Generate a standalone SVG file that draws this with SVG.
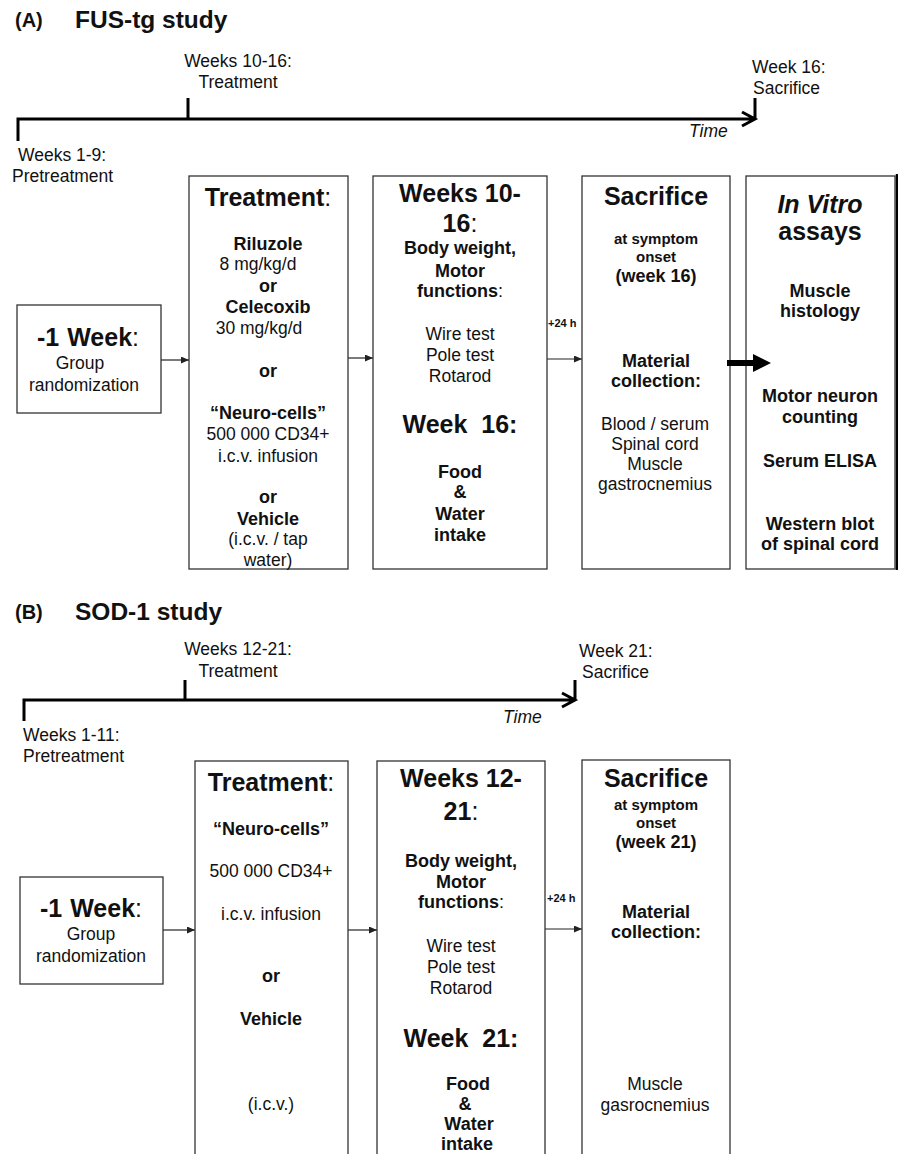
<svg xmlns="http://www.w3.org/2000/svg" width="898" height="1154" viewBox="0 0 898 1154">
<defs>
<style>
text{font-family:"Liberation Sans",Arial,sans-serif;fill:#111}
.r{font-size:17.5px;text-anchor:middle}
.l{font-size:17.5px}
.b{font-size:18px;font-weight:bold;text-anchor:middle}
.h{font-size:25px;font-weight:bold;text-anchor:middle}
.s{font-size:15px;font-weight:bold;text-anchor:middle}
.t{font-size:11px;font-weight:bold}
.n{font-weight:normal}
.box{fill:#fff;stroke:#333;stroke-width:1.3}
.tl{stroke:#000;stroke-width:3;fill:none}
.c{stroke:#222;stroke-width:1.2;fill:none;marker-end:url(#ah)}
</style>
<marker id="ah" markerUnits="userSpaceOnUse" markerWidth="9" markerHeight="8" refX="8" refY="3.5" orient="auto">
<path d="M0,0 L8,3.5 L0,7 z" fill="#222"/>
</marker>
</defs>
<rect width="898" height="1154" fill="#fff"/>

<!-- Panel A -->
<g id="titleA">
<text x="15" y="27" style="font-size:20px;font-weight:bold">(A)</text>
<text x="75" y="28" style="font-size:24.5px;font-weight:bold">FUS-tg study</text>
</g>
<g id="timelineA">
<path class="tl" d="M18,141 L18,119 L755,119 M188,98 L188,119 M755,98 L755,119 M742,112 L755,119 L742,126"/>
<text class="r" x="238" y="67">Weeks 10-16:</text>
<text class="r" x="238" y="88">Treatment</text>
<text class="l" x="752" y="73">Week 16:</text>
<text class="l" x="753" y="94">Sacrifice</text>
<text class="l" x="689" y="137" style="font-style:italic">Time</text>
<text class="l" x="18" y="161">Weeks 1-9:</text>
<text class="l" x="12" y="182">Pretreatment</text>
</g>

<g id="connectorsA">
<line class="c" x1="161" y1="360" x2="189" y2="360"/>
<line class="c" x1="348" y1="358" x2="373" y2="358"/>
<line class="c" x1="547" y1="359" x2="582" y2="359"/>
<text class="t" x="548" y="327">+24 h</text>
</g>

<g id="weekA">
<rect class="box" x="17" y="305" width="144" height="108"/>
<text class="h" x="88" y="346">-1<tspan dx="8">Week</tspan><tspan class="n">:</tspan></text>
<text class="r" x="80" y="369">Group</text>
<text class="r" x="84" y="391">randomization</text>
</g>

<g id="treatmentA">
<rect class="box" x="189" y="176" width="159" height="393"/>
<text class="h" x="268" y="206">Treatment<tspan class="n">:</tspan></text>
<text class="b" x="268" y="250">Riluzole</text>
<text class="r" x="258" y="270">8 mg/kg/d</text>
<text class="b" x="268" y="292">or</text>
<text class="b" x="268" y="313">Celecoxib</text>
<text class="r" x="259" y="334">30 mg/kg/d</text>
<text class="b" x="268" y="377">or</text>
<text class="b" x="268" y="419">“Neuro-cells”</text>
<text class="r" x="268" y="440">500 000 CD34+</text>
<text class="r" x="268" y="462">i.c.v. infusion</text>
<text class="b" x="268" y="503">or</text>
<text class="b" x="268" y="525">Vehicle</text>
<text class="r" x="268" y="545">(i.c.v. / tap</text>
<text class="r" x="268" y="566">water)</text>
</g>

<g id="measureA">
<rect class="box" x="373" y="176" width="174" height="393"/>
<text class="h" x="460" y="202">Weeks 10-</text>
<text class="h" x="460" y="232">16<tspan class="n">:</tspan></text>
<text class="b" x="460" y="254">Body weight,</text>
<text class="b" x="460" y="277">Motor</text>
<text class="b" x="460" y="297">functions<tspan class="n">:</tspan></text>
<text class="r" x="460" y="340">Wire test</text>
<text class="r" x="460" y="361">Pole test</text>
<text class="r" x="460" y="382">Rotarod</text>
<text class="h" x="460" y="433" xml:space="preserve">Week  16:</text>
<text class="b" x="460" y="478">Food</text>
<text class="b" x="460" y="498">&amp;</text>
<text class="b" x="460" y="520">Water</text>
<text class="b" x="460" y="541">intake</text>
</g>

<g id="sacrificeA">
<rect class="box" x="582" y="176" width="148" height="393"/>
<text class="h" x="656" y="205">Sacrifice</text>
<text class="s" x="656" y="244">at symptom</text>
<text class="s" x="656" y="262">onset</text>
<text class="b" x="656" y="282">(week 16)</text>
<text class="b" x="656" y="367">Material</text>
<text class="b" x="656" y="387">collection:</text>
<text class="r" x="655" y="430">Blood / serum</text>
<text class="r" x="655" y="450">Spinal cord</text>
<text class="r" x="655" y="470">Muscle</text>
<text class="r" x="655" y="490">gastrocnemius</text>
</g>

<g id="invitroA">
<rect class="box" x="746" y="176" width="149" height="393"/>
<line x1="897" y1="174" x2="897" y2="570" stroke="#000" stroke-width="2.5"/>
<text class="h" x="820" y="213" style="font-style:italic">In Vitro</text>
<text class="h" x="820" y="240">assays</text>
<text class="b" x="820" y="297">Muscle</text>
<text class="b" x="820" y="317">histology</text>
<text class="b" x="820" y="402">Motor neuron</text>
<text class="b" x="820" y="423">counting</text>
<text class="b" x="820" y="467">Serum ELISA</text>
<text class="b" x="820" y="530">Western blot</text>
<text class="b" x="820" y="550">of spinal cord</text>
</g>

<g id="thickArrowA">
<line x1="727" y1="363" x2="755" y2="363" stroke="#000" stroke-width="6"/>
<polygon points="753,354 771,363 753,372" fill="#000"/>
</g>

<!-- Panel B -->
<g id="titleB">
<text x="15" y="619" style="font-size:20px;font-weight:bold">(B)</text>
<text x="75" y="620" style="font-size:24.5px;font-weight:bold">SOD-1 study</text>
</g>
<g id="timelineB">
<path class="tl" d="M24,721 L24,700 L575,700 M185,680 L185,700 M575,680 L575,700 M562,693 L575,700 L562,707"/>
<text class="r" x="238" y="655">Weeks 12-21:</text>
<text class="r" x="238" y="677">Treatment</text>
<text class="l" x="579" y="657">Week 21:</text>
<text class="l" x="582" y="678">Sacrifice</text>
<text class="l" x="503" y="723" style="font-style:italic">Time</text>
<text class="l" x="23" y="741">Weeks 1-11:</text>
<text class="l" x="23" y="762">Pretreatment</text>
</g>

<g id="connectorsB">
<line class="c" x1="163" y1="930" x2="195" y2="930"/>
<line class="c" x1="348" y1="930" x2="377" y2="930"/>
<line class="c" x1="545" y1="929" x2="582" y2="929"/>
<text class="t" x="547" y="902">+24 h</text>
</g>

<g id="weekB">
<rect class="box" x="20" y="877" width="143" height="107"/>
<text class="h" x="91" y="917">-1<tspan dx="8">Week</tspan><tspan class="n">:</tspan></text>
<text class="r" x="91" y="940">Group</text>
<text class="r" x="91" y="962">randomization</text>
</g>

<g id="treatmentB">
<rect class="box" x="195" y="761" width="153" height="410"/>
<text class="h" x="271" y="791">Treatment<tspan class="n">:</tspan></text>
<text class="b" x="271" y="835">“Neuro-cells”</text>
<text class="r" x="271" y="877">500 000 CD34+</text>
<text class="r" x="271" y="920">i.c.v. infusion</text>
<text class="b" x="271" y="982">or</text>
<text class="b" x="271" y="1025">Vehicle</text>
<text class="r" x="271" y="1110">(i.c.v.)</text>
</g>

<g id="measureB">
<rect class="box" x="377" y="761" width="168" height="410"/>
<text class="h" x="461" y="787">Weeks 12-</text>
<text class="h" x="461" y="820">21<tspan class="n">:</tspan></text>
<text class="b" x="461" y="867">Body weight,</text>
<text class="b" x="461" y="888">Motor</text>
<text class="b" x="461" y="908">functions<tspan class="n">:</tspan></text>
<text class="r" x="461" y="952">Wire test</text>
<text class="r" x="461" y="973">Pole test</text>
<text class="r" x="461" y="994">Rotarod</text>
<text class="h" x="461" y="1047" xml:space="preserve">Week  21:</text>
<text class="b" x="468" y="1090">Food</text>
<text class="b" x="465" y="1110">&amp;</text>
<text class="b" x="469" y="1130">Water</text>
<text class="b" x="467" y="1150">intake</text>
</g>

<g id="sacrificeB">
<rect class="box" x="582" y="760" width="148" height="411"/>
<text class="h" x="656" y="787">Sacrifice</text>
<text class="s" x="656" y="810">at symptom</text>
<text class="s" x="656" y="828">onset</text>
<text class="b" x="656" y="848">(week 21)</text>
<text class="b" x="656" y="918">Material</text>
<text class="b" x="656" y="938">collection:</text>
<text class="r" x="655" y="1090">Muscle</text>
<text class="r" x="655" y="1111">gasrocnemius</text>
</g>
</svg>
